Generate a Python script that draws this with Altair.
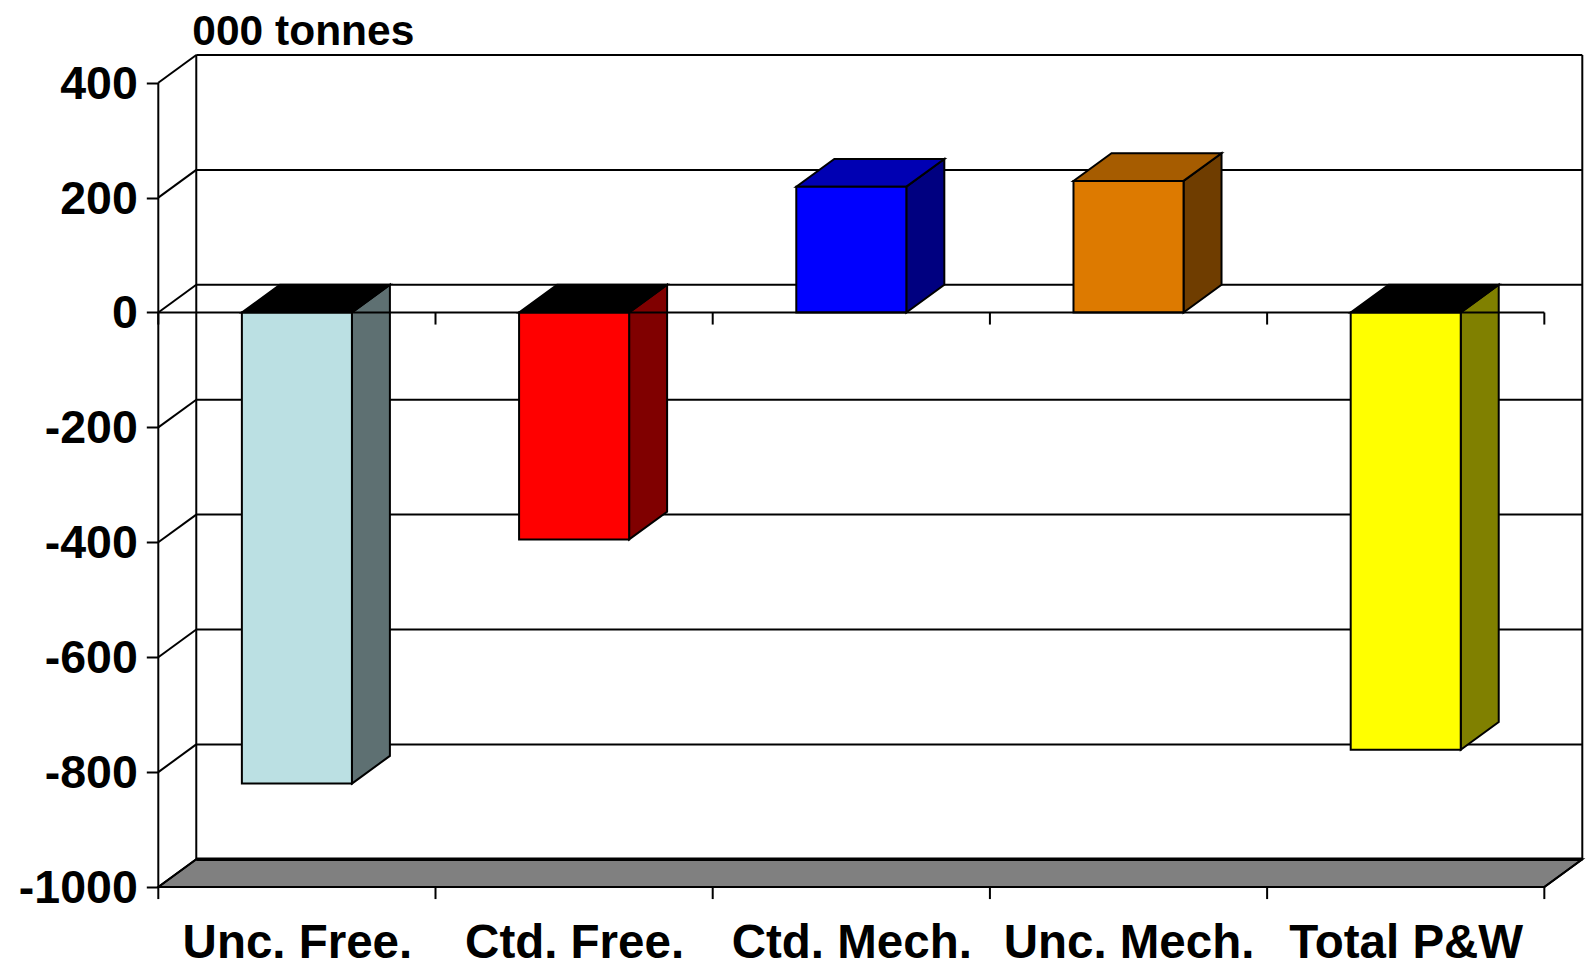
import json
import altair as alt
import pandas as pd

# Chart values (000 tonnes)
categories = ["Unc. Free.", "Ctd. Free.", "Ctd. Mech.", "Unc. Mech.", "Total P&W"]
values = [-820, -395, 219, 229, -761]
front_colors = ["#BBE0E3", "#FF0000", "#0000FF", "#DD7A00", "#FFFF00"]
side_colors = ["#5E7072", "#800000", "#000080", "#6F3D00", "#808000"]
top_colors = ["#000000", "#000000", "#0000B3", "#A65C00", "#000000"]
y_ticks = [-1000, -800, -600, -400, -200, 0, 200, 400]

# Pseudo-3D geometry, in axis units: each category is one x unit wide
DEPTH_X = 0.137
DEPTH_Y = 48.2
BAR_WIDTH = 0.397
Y_MIN, Y_MAX = -1000, 400
N = len(categories)

FONT = "Liberation Sans"
LINE = 2

x_scale = alt.Scale(domain=[0, N + DEPTH_X], nice=False, zero=False)
y_scale = alt.Scale(domain=[Y_MIN, Y_MAX + DEPTH_Y], nice=False, zero=False)

y_axis = alt.Axis(
    values=y_ticks, title=None, domain=False, grid=False, tickSize=12,
    tickWidth=LINE, tickColor="black", labelFont=FONT, labelFontWeight="bold",
    labelFontSize=46.5, labelColor="black", labelPadding=9, labelOffset=1.5,
    labelExpr="'' + datum.value",  # plain hyphen for negative numbers
)
x_axis = alt.Axis(
    values=[i + 0.5 for i in range(N)], title=None, domain=False, grid=False,
    ticks=False, labelFont=FONT, labelFontWeight="bold", labelFontSize=47.5,
    labelColor="black", labelPadding=32, labelAngle=0, labelOverlap=False,
    labelLimit=400, labelExpr="%s[floor(datum.value)]" % json.dumps(categories),
)


# Every layer carries the same axis definitions, so they merge into one pair
def X():
    return alt.X("x:Q", scale=x_scale, axis=x_axis)


def Y():
    return alt.Y("y:Q", scale=y_scale, axis=y_axis)


# Floor of the box
floor = pd.DataFrame({
    "y": [Y_MIN, Y_MIN + DEPTH_Y],
    "x": [0, DEPTH_X],
    "x2": [N, N + DEPTH_X],
})
floor_layer = alt.Chart(floor).mark_area(
    orient="horizontal", fill="#808080", stroke="black", strokeWidth=LINE
).encode(y=Y(), x=X(), x2="x2:Q")

# Back wall: gridlines, one per y tick
wall_h = pd.DataFrame({
    "x": [DEPTH_X] * len(y_ticks),
    "x2": [N + DEPTH_X] * len(y_ticks),
    "y": [v + DEPTH_Y for v in y_ticks],
    "w": [3.4 if v == Y_MIN else LINE for v in y_ticks],
})
wall_lines = alt.Chart(wall_h).mark_rule(color="black").encode(
    x=X(), x2="x2:Q", y=Y(), strokeWidth=alt.StrokeWidth("w:Q", scale=None)
)

# Vertical box edges: front-left axis line, back-left and back-right wall edges
edges = pd.DataFrame({
    "x": [0, DEPTH_X, N + DEPTH_X],
    "y": [Y_MIN, Y_MIN + DEPTH_Y, Y_MIN + DEPTH_Y],
    "y2": [Y_MAX, Y_MAX + DEPTH_Y, Y_MAX + DEPTH_Y],
})
edge_lines = alt.Chart(edges).mark_rule(color="black", strokeWidth=LINE).encode(
    x=X(), y=Y(), y2="y2:Q"
)

# Slanted lines joining the front axis to the back wall
diag_rows = []
for v in y_ticks:
    diag_rows.append({"k": v, "x": 0, "y": v})
    diag_rows.append({"k": v, "x": DEPTH_X, "y": v + DEPTH_Y})
diag_rows.append({"k": "r", "x": N, "y": Y_MIN})
diag_rows.append({"k": "r", "x": N + DEPTH_X, "y": Y_MIN + DEPTH_Y})
diagonals = alt.Chart(pd.DataFrame(diag_rows)).mark_line(
    color="black", strokeWidth=LINE
).encode(x=X(), y=Y(), detail="k:N")

# Bars: side face, top face, front face
side_rows, top_rows, front_rows = [], [], []
for i, (cat, v) in enumerate(zip(categories, values)):
    left = i + 0.5 - BAR_WIDTH / 2
    right = i + 0.5 + BAR_WIDTH / 2
    top = max(v, 0)
    bottom = min(v, 0)
    side_rows.append({"k": cat, "x": right, "y": bottom, "y2": top, "c": side_colors[i]})
    side_rows.append({"k": cat, "x": right + DEPTH_X, "y": bottom + DEPTH_Y,
                      "y2": top + DEPTH_Y, "c": side_colors[i]})
    top_rows.append({"k": cat, "y": top, "x": left, "x2": right, "c": top_colors[i]})
    top_rows.append({"k": cat, "y": top + DEPTH_Y, "x": left + DEPTH_X,
                     "x2": right + DEPTH_X, "c": top_colors[i]})
    front_rows.append({"k": cat, "x": left, "x2": right, "y": bottom, "y2": top,
                       "c": front_colors[i]})

sides = alt.Chart(pd.DataFrame(side_rows)).mark_area(
    stroke="black", strokeWidth=LINE, orient="vertical"
).encode(x=X(), y=Y(), y2="y2:Q", detail="k:N", fill=alt.Fill("c:N", scale=None))
tops = alt.Chart(pd.DataFrame(top_rows)).mark_area(
    stroke="black", strokeWidth=LINE, orient="horizontal"
).encode(y=Y(), x=X(), x2="x2:Q", detail="k:N", fill=alt.Fill("c:N", scale=None))
fronts = alt.Chart(pd.DataFrame(front_rows)).mark_rect(
    stroke="black", strokeWidth=LINE
).encode(x=X(), x2="x2:Q", y=Y(), y2="y2:Q", fill=alt.Fill("c:N", scale=None))

# Front x axis lines at zero and at the bottom, with their ticks
base_lines = pd.DataFrame({"x": [0, 0], "x2": [N, N], "y": [0, Y_MIN]})
axis_lines = alt.Chart(base_lines).mark_rule(color="black", strokeWidth=LINE).encode(
    x=X(), x2="x2:Q", y=Y()
)
tick_rows = [{"x": i, "y": lvl, "y2": lvl - 21} for i in range(N + 1) for lvl in (0, Y_MIN)]
x_ticks = alt.Chart(pd.DataFrame(tick_rows)).mark_rule(
    color="black", strokeWidth=LINE, clip=False
).encode(x=X(), y=Y(), y2="y2:Q")

# Unit label above the box
unit_label = alt.Chart(pd.DataFrame({"t": ["000 tonnes"]})).mark_text(
    font=FONT, fontWeight="bold", fontSize=42.5, align="left", baseline="alphabetic",
    color="black",
).encode(x=alt.value(34), y=alt.value(-10), text="t:N")

chart = alt.layer(
    floor_layer, wall_lines, edge_lines, diagonals, sides, tops, fronts,
    axis_lines, x_ticks, unit_label,
).properties(
    width=1424,
    height=832,
    padding={"left": 158.3, "top": 55, "right": 9.7, "bottom": 82},
    autosize=alt.AutoSizeParams(type="none"),
    background="white",
).configure_view(stroke=None)

chart.save("out.html", embed_options={"renderer": "svg", "actions": False})
